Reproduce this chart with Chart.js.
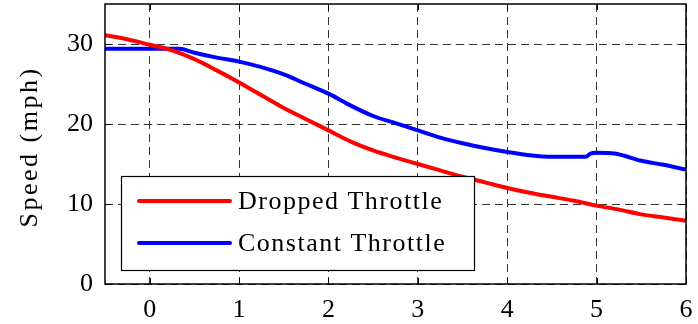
<!DOCTYPE html>
<html>
<head>
<meta charset="utf-8">
<script src="https://cdn.jsdelivr.net/npm/chart.js@4.4.1/dist/chart.umd.min.js"></script>
<style>
  html, body { margin: 0; padding: 0; background: #fff; }
  #wrap { width: 698px; height: 324px; }
</style>
</head>
<body>
<div id="wrap"><canvas id="myChart" width="698" height="324"></canvas></div>
<script>
// datos
var droppedX = [-0.5, -0.25, 0, 0.25, 0.5, 0.75, 1, 1.25, 1.5, 1.75, 2, 2.25, 2.5, 2.75, 3, 3.25, 3.5, 3.75, 4, 4.25, 4.5, 4.75, 5, 5.25, 5.5, 5.75, 6];
var droppedSpeed = [31.1, 30.6, 29.9, 29.2, 28.1, 26.7, 25.2, 23.6, 22.0, 20.6, 19.2, 17.8, 16.7, 15.8, 15.0, 14.2, 13.4, 12.7, 12.0, 11.4, 10.9, 10.4, 9.8, 9.3, 8.7, 8.3, 7.9];

var constantX = [-0.5, 0, 0.33, 0.5, 0.75, 1, 1.25, 1.5, 1.75, 2, 2.25, 2.5, 2.75, 3, 3.25, 3.5, 3.75, 4, 4.25, 4.5, 4.75, 4.88, 4.93, 5, 5.2, 5.5, 5.75, 6];
var constantSpeed = [29.4, 29.4, 29.4, 28.9, 28.3, 27.8, 27.1, 26.2, 25.0, 23.8, 22.3, 21.0, 20.1, 19.2, 18.3, 17.6, 17.0, 16.5, 16.1, 15.9, 15.9, 15.9, 16.3, 16.4, 16.3, 15.4, 14.9, 14.3];

var seriesLabels = ['Dropped Throttle', 'Constant Throttle'];
var xTicks = [0, 1, 2, 3, 4, 5, 6];
var yTicks = [0, 10, 20, 30];
var yTitle = 'Speed (mph)';

// sin 'serif' generico: aqui apunta a DejaVu Serif
var serif = "'Liberation Serif', 'Times New Roman'";

function toPoints(xs, ys) {
    return xs.map(function (x, i) { return { x: x, y: ys[i] }; });
}

// marco, marcas hacia adentro, leyenda y titulo del eje y
var matlabPlugin = {
    id: 'matlabStyle',
    afterDraw: function (chart) {
        var ctx = chart.ctx;
        var a = chart.chartArea;
        var xs = chart.scales.x, ys = chart.scales.y;
        ctx.save();
        ctx.strokeStyle = '#000';
        ctx.lineWidth = 1.5;
        ctx.setLineDash([]);
        ctx.strokeRect(a.left, a.top, a.right - a.left, a.bottom - a.top);

        // marcas de graduacion
        ctx.lineWidth = 1;
        ctx.beginPath();
        xTicks.forEach(function (v) {
            var px = Math.round(xs.getPixelForValue(v)) + 0.5;
            ctx.moveTo(px, a.bottom); ctx.lineTo(px, a.bottom - 6);
            ctx.moveTo(px, a.top); ctx.lineTo(px, a.top + 6);
        });
        yTicks.forEach(function (v) {
            var py = Math.round(ys.getPixelForValue(v)) + 0.5;
            ctx.moveTo(a.left, py); ctx.lineTo(a.left + 6, py);
            ctx.moveTo(a.right, py); ctx.lineTo(a.right - 6, py);
        });
        ctx.stroke();

        // leyenda
        var bx = a.left + 16, bw = 353, bh = 94, by = a.bottom - 14 - bh;
        ctx.fillStyle = '#fff';
        ctx.fillRect(bx, by, bw, bh);
        ctx.strokeStyle = '#000';
        ctx.lineWidth = 1.2;
        ctx.strokeRect(bx + 0.5, by + 0.5, bw, bh);
        ctx.font = '26px ' + serif;
        ctx.textBaseline = 'middle';
        ctx.textAlign = 'left';
        try { ctx.letterSpacing = '1.5px'; } catch (e) {}
        chart.data.datasets.forEach(function (ds, i) {
            var ly = by + 25 + i * 42;
            ctx.strokeStyle = ds.borderColor;
            ctx.lineWidth = 4;
            ctx.lineCap = 'round';
            ctx.beginPath();
            ctx.moveTo(bx + 18, ly);
            ctx.lineTo(bx + 109, ly);
            ctx.stroke();
            ctx.fillStyle = '#000';
            ctx.fillText(ds.label, bx + 117, ly + 1);
        });

        // titulo del eje y
        try { ctx.letterSpacing = '2.5px'; } catch (e) {}
        ctx.translate(30, (a.top + a.bottom) / 2 + 3);
        ctx.rotate(-Math.PI / 2);
        ctx.textAlign = 'center';
        ctx.font = '26px ' + serif;
        ctx.fillText(yTitle, 0, 0);
        ctx.restore();
    }
};

var ctx = document.getElementById('myChart').getContext('2d');
var chart = new Chart(ctx, {
    type: 'line',
    data: {
        datasets: [{
            label: seriesLabels[0],
            data: toPoints(droppedX, droppedSpeed),
            borderColor: '#ff0000',
            borderWidth: 4,
            pointRadius: 0,
            cubicInterpolationMode: 'monotone'
        }, {
            label: seriesLabels[1],
            data: toPoints(constantX, constantSpeed),
            borderColor: '#0000ff',
            borderWidth: 4,
            pointRadius: 0,
            cubicInterpolationMode: 'monotone'
        }]
    },
    options: {
        responsive: false,
        animation: false,
        layout: { padding: { left: 0, right: 12, top: 4, bottom: 0 } },
        plugins: {
            legend: { display: false },
            tooltip: { enabled: false }
        },
        scales: {
            x: {
                type: 'linear',
                min: -0.5,
                max: 6,
                afterBuildTicks: function (scale) {
                    scale.ticks = xTicks.map(function (v) { return { value: v }; });
                },
                afterFit: function (scale) {
                    scale.height = 40;
                    scale.paddingLeft = 0;
                    scale.paddingRight = 0;
                },
                grid: { color: '#333', lineWidth: 1, drawTicks: false },
                border: { display: false, dash: [8, 5] },
                ticks: {
                    color: '#000',
                    padding: 11,
                    maxRotation: 0,
                    font: { family: serif, size: 26 }
                }
            },
            y: {
                min: 0,
                max: 35,
                afterBuildTicks: function (scale) {
                    scale.ticks = yTicks.map(function (v) { return { value: v }; });
                },
                afterFit: function (scale) {
                    scale.width = 105;
                    scale.paddingTop = 0;
                    scale.paddingBottom = 0;
                },
                grid: { color: '#333', lineWidth: 1, drawTicks: false },
                border: { display: false, dash: [8, 5] },
                ticks: {
                    color: '#000',
                    padding: 12,
                    font: { family: serif, size: 26 }
                }
            }
        }
    },
    plugins: [matlabPlugin]
});
</script>
</body>
</html>
